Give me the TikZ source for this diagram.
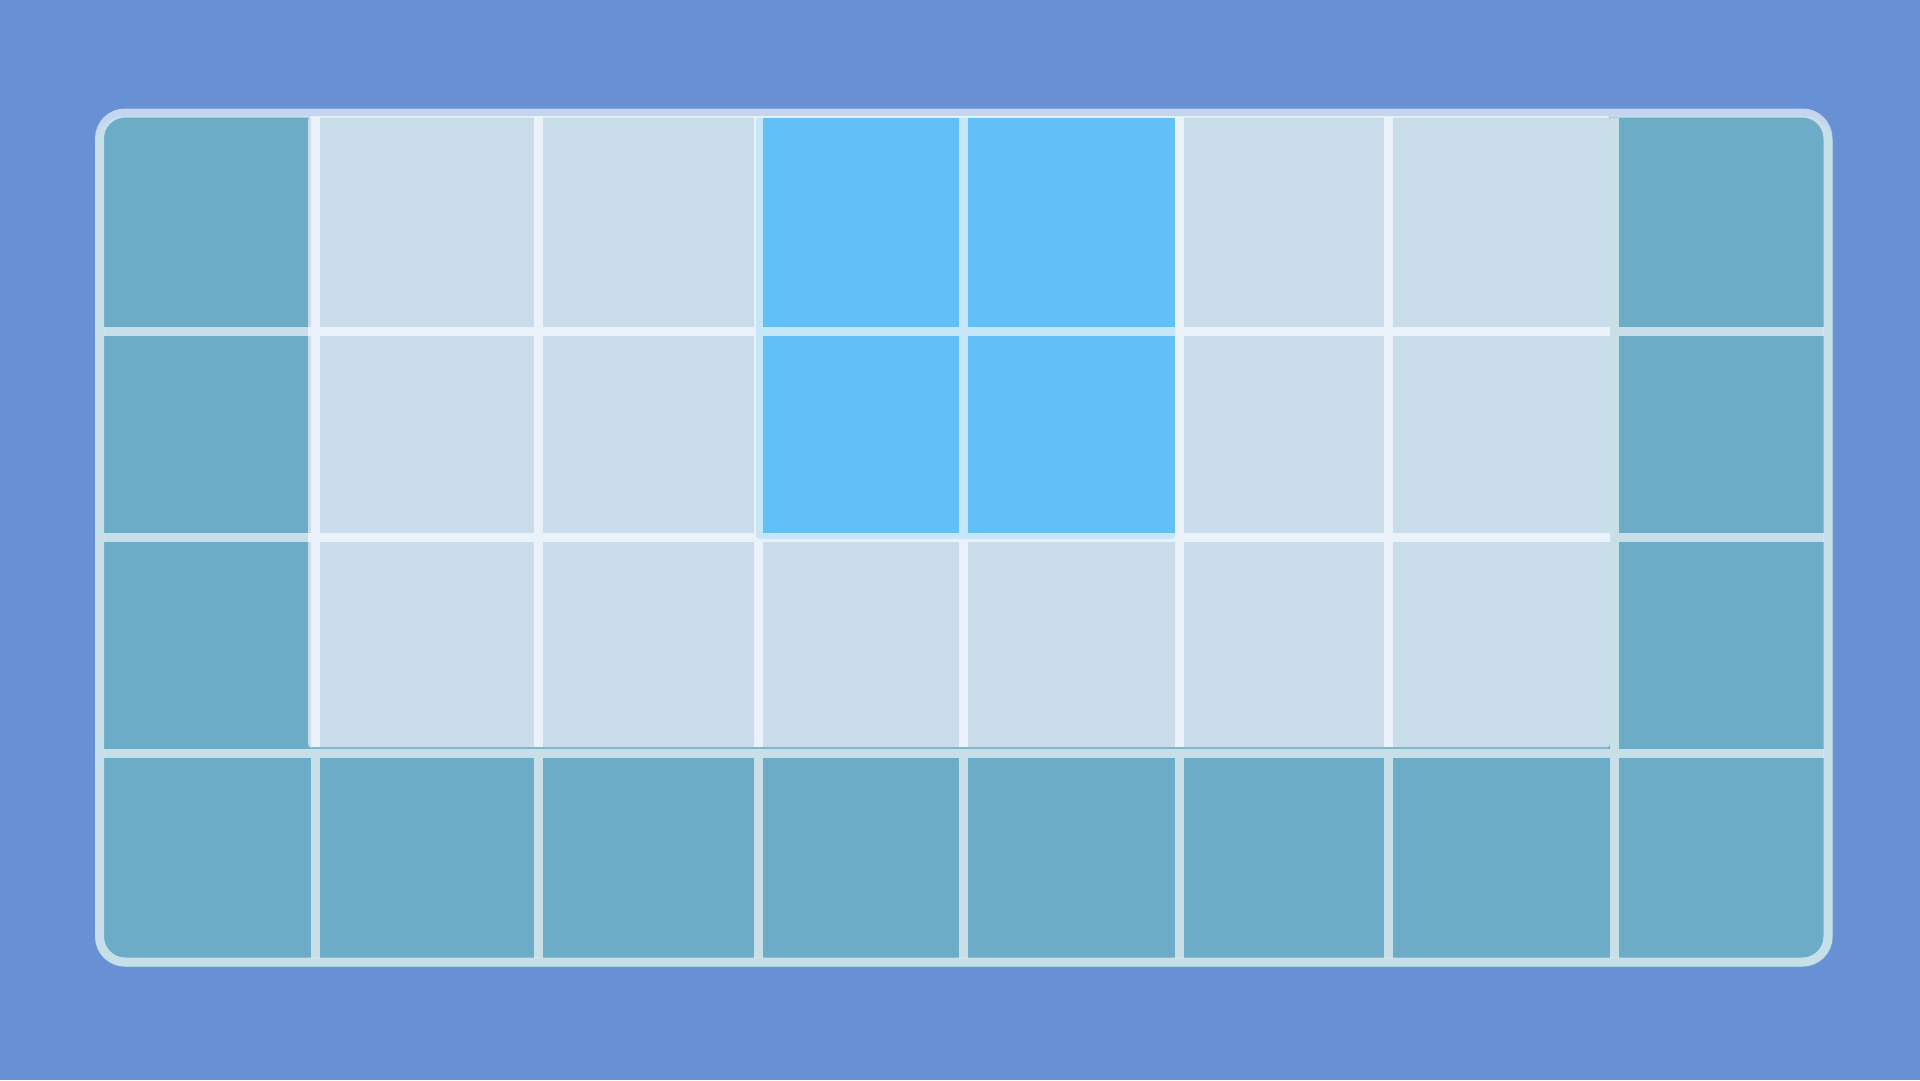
\documentclass[tikz,border=0pt]{standalone}
\definecolor{bgblue}{HTML}{6891D5}
\definecolor{tealcell}{HTML}{6CACC6}
\definecolor{tealline}{HTML}{C9DFE7}
\definecolor{lightcell}{HTML}{C9DCE9}
\definecolor{lightline}{HTML}{EBF1F8}
\definecolor{hicell}{HTML}{63C0F7}
\definecolor{hiline}{HTML}{C5E7F9}
\definecolor{edgeline}{HTML}{7FB7D1}
\tikzset{
  tgrid/.style={draw=tealline, line width=9pt},
  lgrid/.style={draw=lightline, line width=9pt},
  frame/.style={draw=white, draw opacity=0.62, line width=9pt, rounded corners=25.5pt},
}
\begin{document}
\begin{tikzpicture}[x=1pt,y=-1pt]
\useasboundingbox (0,0) rectangle (1920,1080);
\fill[bgblue] (0,0) rectangle (1920,1080);
% board fill
\fill[tealcell, rounded corners=30pt] (95,116) rectangle (1833,967);
% grid lines over the teal board
\foreach \x in {315.5,538.8,758,963.7,1179,1388.8,1614.5}
  \path[tgrid] (\x,117.5) -- (\x,957.5);
\foreach \y in {331.5,537.3,753}
  \path[tgrid] (104,\y) -- (1823.5,\y);
% light region
\fill[lightcell, rounded corners=4pt] (308,116) rectangle (1610,748);
\begin{scope}
  \clip (308,117.5) rectangle (1610,748);
  \foreach \x in {315.5,538.8,758,963.7,1179,1388.8}
    \path[lgrid] (\x,110) -- (\x,750);
  \foreach \y in {331.5,537.3}
    \path[lgrid] (305,\y) -- (1612,\y);
\end{scope}
\draw[edgeline, line width=1.2pt] (311,748) -- (1607,748);
% highlighted region
\fill[hiline, rounded corners=4pt] (756,116) rectangle (1175,539);
\fill[hicell] (762.5,117.5) rectangle (959.2,327);
\fill[hicell] (968.2,117.5) rectangle (1174.5,327);
\fill[hicell] (762.5,336) rectangle (959.2,532.8);
\fill[hicell] (968.2,336) rectangle (1174.5,532.8);
% outer frame
\path[frame] (99.5,113) rectangle (1828,962);
\end{tikzpicture}
\end{document}
